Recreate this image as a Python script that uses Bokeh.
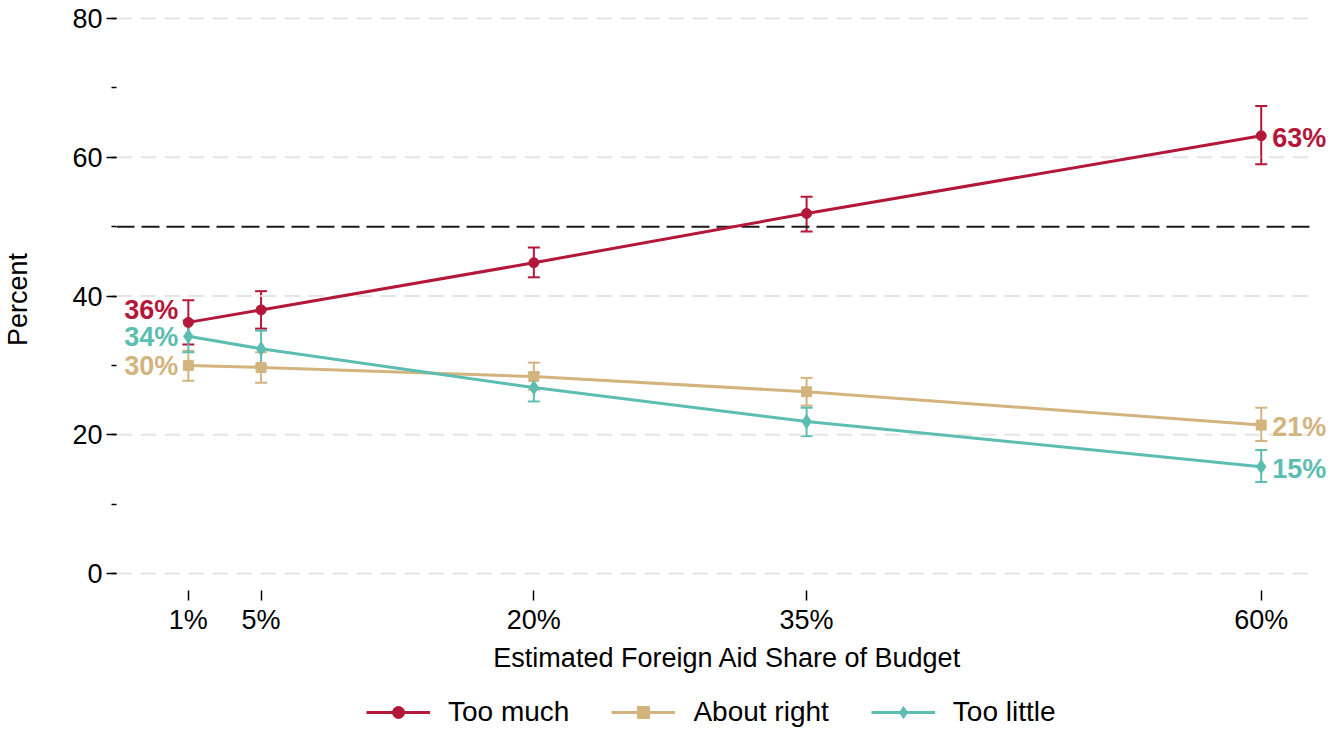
from bokeh.plotting import figure
from bokeh.layouts import column
from bokeh.models import (ColumnDataSource, Whisker, TeeHead, Legend, LegendItem,
                          FixedTicker, SingleIntervalTicker, Range1d)
from bokeh.embed import file_html
from bokeh.resources import INLINE
from bokeh.core.properties import value

# ---------------- data ----------------
shares = [1, 5, 20, 35, 60]
share_labels = ["1%", "5%", "20%", "35%", "60%"]

too_much = [36.2, 38.0, 44.8, 51.9, 63.1]
too_much_lo = [33.0, 35.3, 42.7, 49.3, 59.0]
too_much_hi = [39.4, 40.7, 47.0, 54.3, 67.4]

about_right = [30.0, 29.7, 28.4, 26.2, 21.4]
about_right_lo = [27.8, 27.5, 26.5, 24.2, 19.1]
about_right_hi = [32.1, 31.9, 30.4, 28.2, 23.9]

too_little = [34.2, 32.4, 26.8, 21.9, 15.4]
too_little_lo = [31.9, 30.0, 24.8, 19.8, 13.2]
too_little_hi = [36.5, 35.0, 28.9, 23.9, 17.8]

series_names = ["Too much", "About right", "Too little"]
threshold = 50
y_grid_values = [0, 20, 40, 60, 80]

# ---------------- style ----------------
FONT = "Liberation Sans"
colors = ["#B3173A", "#D3B47F", "#5CBDB1"]
markers = ["circle", "square", "diamond"]
marker_sizes = [10, 10, 14]
left_label_offsets = [-12, 1, 1]
right_label_offsets = [2, 2, 2]
X_LO, X_HI_GRID, X_HI = -2.95, 63.0, 64.25

p = figure(width=1340, height=680,
           x_range=Range1d(X_LO, X_HI), y_range=Range1d(-2.45, 81.45),
           output_backend="svg", toolbar_location=None,
           min_border_left=113, min_border_right=2,
           min_border_top=8, min_border_bottom=90)
p.outline_line_color = None
p.background_fill_color = "white"
p.border_fill_color = "white"

# axes
p.xaxis.ticker = FixedTicker(ticks=shares)
p.xaxis.major_label_overrides = {s: l for s, l in zip(shares, share_labels)}
p.xaxis.axis_label = "Estimated Foreign Aid Share of Budget"
p.yaxis.ticker = SingleIntervalTicker(interval=20, num_minor_ticks=2)
p.yaxis.axis_label = "Percent"

for ax in (p.xaxis, p.yaxis):
    ax.axis_line_color = None
    ax.major_tick_in = 0
    ax.major_tick_out = 10
    ax.major_tick_line_color = "black"
    ax.major_tick_line_width = 1.5
    ax.major_label_text_font = FONT
    ax.major_label_text_font_size = "27px"
    ax.major_label_text_color = "black"
    ax.axis_label_text_font = FONT
    ax.axis_label_text_font_size = "27px"
    ax.axis_label_text_font_style = "normal"
    ax.axis_label_text_color = "black"
    ax.major_label_standoff = 4

p.xaxis.minor_tick_line_color = None
p.xaxis.axis_label_standoff = 5
p.yaxis.minor_tick_in = 0
p.yaxis.minor_tick_out = 5
p.yaxis.minor_tick_line_color = "black"
p.yaxis.minor_tick_line_width = 1.5
p.yaxis.axis_label_standoff = 36

p.xgrid.grid_line_color = None
p.ygrid.grid_line_color = None

# dashed grid lines (drawn only over the plotting region)
n = len(y_grid_values)
p.segment(x0=[X_LO] * n, x1=[X_HI_GRID] * n, y0=y_grid_values, y1=y_grid_values,
          line_color="#e6e6e6", line_width=2, line_dash="16 8")

# reference line
p.segment(x0=[X_LO], x1=[X_HI_GRID], y0=[threshold], y1=[threshold],
          line_color="#1a1a1a", line_width=2, line_dash="18 7")

series = [
    (too_much, too_much_lo, too_much_hi),
    (about_right, about_right_lo, about_right_hi),
    (too_little, too_little_lo, too_little_hi),
]

sources = []
for i, (vals, lo, hi) in enumerate(series):
    c = colors[i]
    src = ColumnDataSource(dict(x=shares, y=vals, lo=lo, hi=hi))
    sources.append(src)
    p.add_layout(Whisker(source=src, base="x", upper="hi", lower="lo",
                         line_color=c, line_width=2,
                         upper_head=TeeHead(size=12, line_color=c, line_width=2),
                         lower_head=TeeHead(size=12, line_color=c, line_width=2)))
    p.line("x", "y", source=src, line_color=c, line_width=3)
    p.scatter("x", "y", source=src, marker=markers[i], size=marker_sizes[i],
              fill_color=c, line_color=c)
    # end labels
    p.text(x=[shares[0]], y=[vals[0]], text=[f"{round(vals[0])}%"],
           text_font=value(FONT), text_font_style="bold", text_font_size="27px",
           text_color=c, text_align="right", text_baseline="middle",
           x_offset=-10, y_offset=left_label_offsets[i])
    p.text(x=[shares[-1]], y=[vals[-1]], text=[f"{round(vals[-1])}%"],
           text_font=value(FONT), text_font_style="bold", text_font_size="27px",
           text_color=c, text_align="left", text_baseline="middle",
           x_offset=11, y_offset=right_label_offsets[i])

# ---------------- legend strip ----------------
# the strip's ranges keep the series' own data out of view; only the legend shows
lf = figure(width=1340, height=52, x_range=Range1d(-1000, -999), y_range=Range1d(-1000, -999),
            x_axis_type=None, y_axis_type=None, output_backend="svg",
            toolbar_location=None, min_border=0)
lf.outline_line_color = None
lf.xgrid.grid_line_color = None
lf.ygrid.grid_line_color = None

items = []
for i, name in enumerate(series_names):
    c = colors[i]
    lr = lf.line("x", "y", source=sources[i], line_color=c, line_width=3)
    sr = lf.scatter("x", "y", source=sources[i], marker=markers[i], size=marker_sizes[i],
                    fill_color=c, line_color=c)
    items.append(LegendItem(label=name, renderers=[lr, sr]))

legend = Legend(items=items, orientation="horizontal", location=(250, 4),
                border_line_color=None, background_fill_alpha=0,
                label_text_font=FONT, label_text_font_size="28px",
                label_text_color="black", glyph_width=64, glyph_height=30,
                label_height=30, label_standoff=18, spacing=42,
                padding=0, margin=0)
lf.add_layout(legend, "center")

layout = column(p, lf, spacing=0)
open("out.html", "w").write(file_html(layout, INLINE))
